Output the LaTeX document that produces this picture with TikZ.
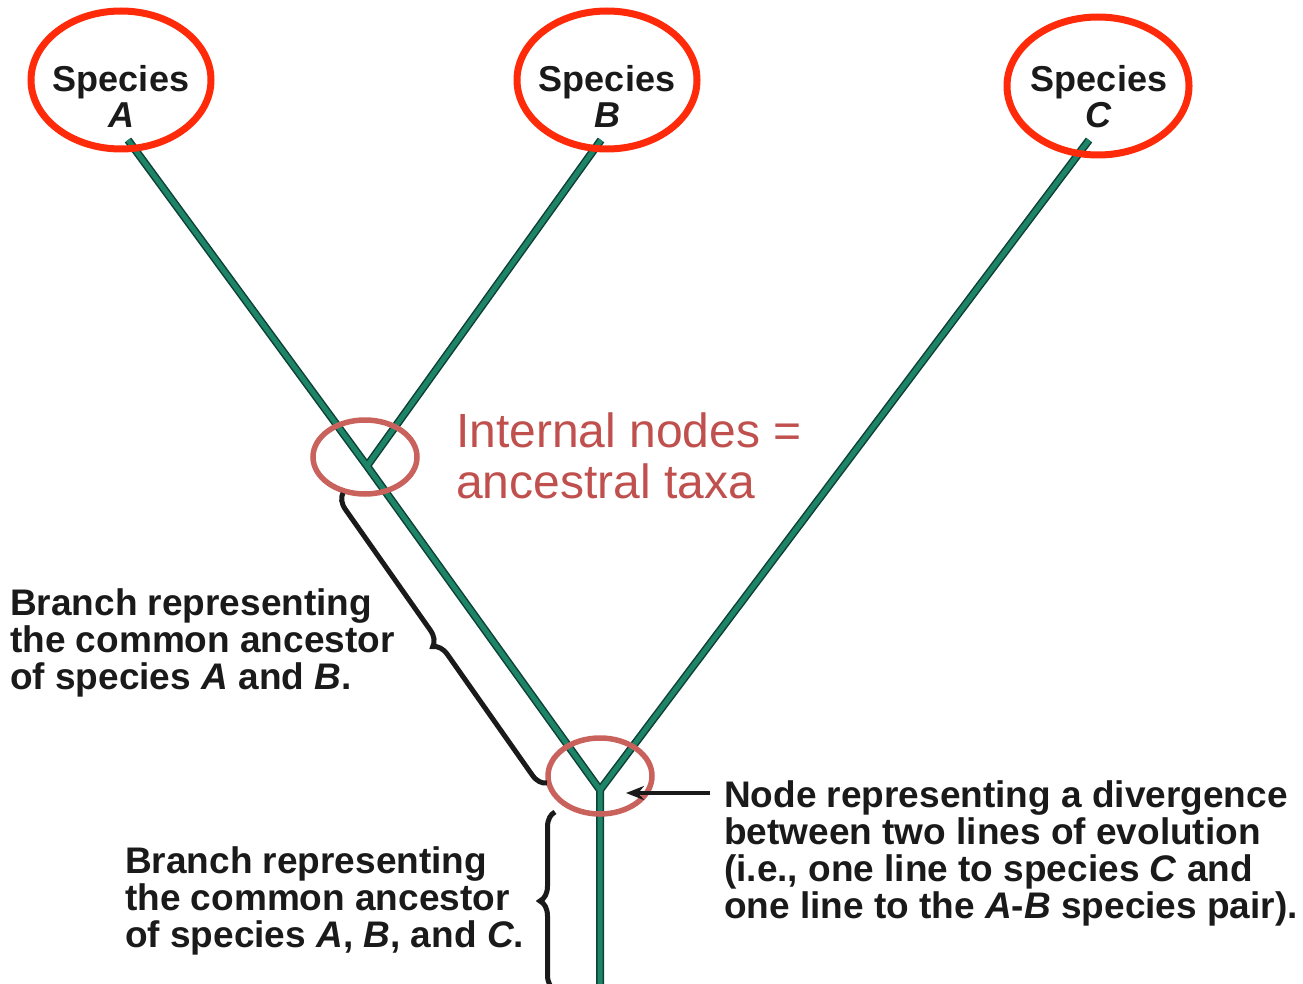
\documentclass[tikz,border=0pt]{standalone}
\usepackage{fontspec}
\setmainfont{Liberation Sans}
\usetikzlibrary{decorations.pathreplacing,arrows.meta}
\definecolor{ringred}{HTML}{FF2A0A}
\definecolor{nodered}{HTML}{C9625C}
\definecolor{txtred}{HTML}{C0504D}
\definecolor{tealin}{HTML}{1E8468}
\definecolor{tealout}{HTML}{0E3F34}
\definecolor{ink}{HTML}{1A1A1A}
\begin{document}
\begin{tikzpicture}[x=1pt,y=-1pt,
  splabel/.style={font=\fontsize{36}{36}\selectfont\bfseries, text=ink, align=center, inner sep=0pt, anchor=north},
  blabel/.style={font=\fontsize{37}{37}\selectfont\bfseries, text=ink, align=left, inner sep=0pt, anchor=north west},
  redlabel/.style={font=\fontsize{48}{51}\selectfont, text=txtred, align=left, inner sep=0pt, anchor=north west},
  ring/.style={draw=ringred, line width=7pt},
  nodering/.style={draw=nodered, line width=5.5pt},
  mybrace/.style={decorate, decoration={brace, amplitude=15pt, raise=0pt}},
  pointer/.style={-{Stealth[length=18pt,width=14pt]}}
]
\useasboundingbox (0,0) rectangle (1303,984);

% tree points
\coordinate (tA) at (128,140);
\coordinate (tB) at (601,140);
\coordinate (tC) at (1089,140);
\coordinate (n1) at (367,466);
\coordinate (root) at (600,790);
\coordinate (bot) at (600,990);

% branches (outline, then fill)
\foreach \w/\c in {8/tealout, 5/tealin}{
  \draw[line width=\w pt, color=\c, line join=round] (tA) -- (n1) -- (root) -- (bot);
  \draw[line width=\w pt, color=\c, line join=round] (tB) -- (n1);
  \draw[line width=\w pt, color=\c, line join=round] (tC) -- (root);
}

% species labels
\node[splabel] (labA) at (121,65) {Species\\\textit{A}};
\node[splabel] (labB) at (607,65) {Species\\\textit{B}};
\node[splabel] (labC) at (1099,65) {Species\\\textit{C}};

% red rings
\draw[ring] (121,80) ellipse [x radius=90, y radius=69];
\draw[ring] (607,80) ellipse [x radius=90, y radius=69];
\draw[ring] (1098,86) ellipse [x radius=91, y radius=69];

% internal node rings
\draw[nodering] (365,457) ellipse [x radius=52, y radius=37];
\draw[nodering] (600,776) ellipse [x radius=52, y radius=38];

% red text
\node[redlabel] (internal) at (456,413) {Internal nodes =\\ancestral taxa};

% braces
\coordinate (br1s) at (547,783);
\coordinate (br1e) at (343,493);
\draw[ink, line width=5pt, mybrace] (br1s) -- (br1e);
\coordinate (br2s) at (555,990);
\coordinate (br2e) at (555,812);
\draw[ink, line width=5pt, mybrace] (br2s) -- (br2e);

% branch labels
\node[blabel] (branchAB) at (10,588) {Branch representing\\the common ancestor\\of species \textit{A} and \textit{B}.};
\node[blabel] (branchABC) at (125,846) {Branch representing\\the common ancestor\\of species \textit{A}, \textit{B}, and \textit{C}.};
\node[blabel] (divnode) at (724,780) {Node representing a divergence\\between two lines of evolution\\(i.e., one line to species \textit{C} and\\one line to the \textit{A}-\textit{B} species pair).};

% pointer
\coordinate (arrS) at (710,793);
\coordinate (arrE) at (626,793);
\draw[ink, line width=3.5pt, pointer] (arrS) -- (arrE);
\end{tikzpicture}
\end{document}
